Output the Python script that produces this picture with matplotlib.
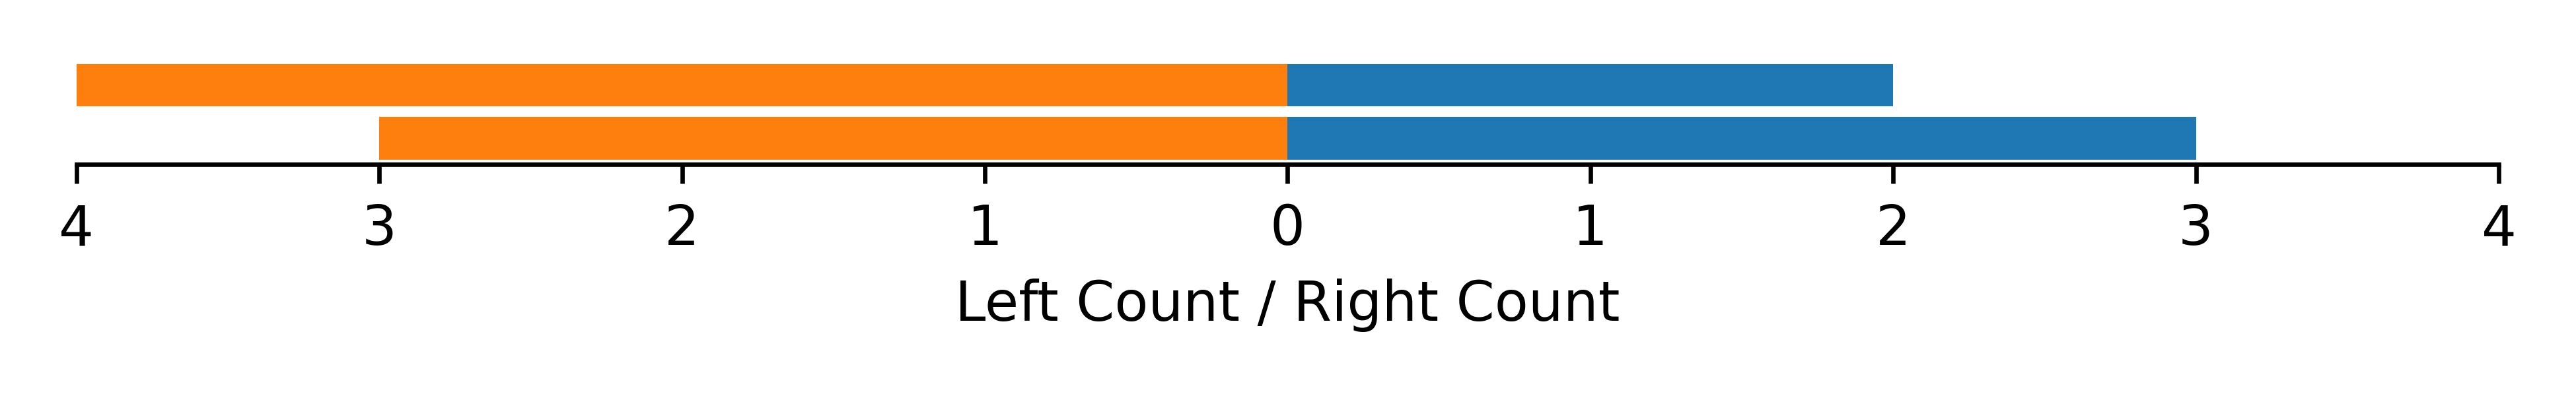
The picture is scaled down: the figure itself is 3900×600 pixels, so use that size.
import numpy as np
import matplotlib.pyplot as plt

# two rows, bottom row first
rows = ['Row 1', 'Row 2']
left_count = [3, 4]
right_count = [3, 2]
ticks = [-4, -3, -2, -1, 0, 1, 2, 3, 4]

fig, ax = plt.subplots(figsize=(6.5, 1), dpi=600)
y = np.arange(len(rows))
ax.barh(y, [-v for v in left_count], height=0.8, color='#ff7f0e')
ax.barh(y, right_count, height=0.8, color='#1f77b4')

ax.set_xlim(-4, 4)
ax.set_xticks(ticks)
ax.set_xticklabels([str(abs(t)) for t in ticks])
ax.set_yticks([])
ax.set_xlabel('Left Count / Right Count')
for s in ['top', 'right', 'left']:
    ax.spines[s].set_visible(False)

plt.subplots_adjust(left=0.0297, right=0.970, top=0.851, bottom=0.585)
plt.savefig('out.png', dpi=600)
